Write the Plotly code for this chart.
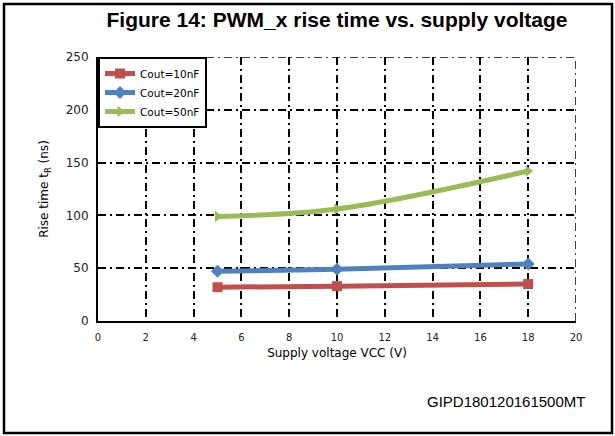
import plotly.graph_objects as go

# Data
vcc = [5, 10, 18]
rise_10nF = [32, 33, 35]
rise_20nF = [47, 49, 54]
rise_50nF = [99, 106, 142]
series_names = ["Cout=10nF", "Cout=20nF", "Cout=50nF"]
x_ticks = [0, 2, 4, 6, 8, 10, 12, 14, 16, 18, 20]
y_ticks = [0, 50, 100, 150, 200, 250]

colors = ["#C0504D", "#4F81BD", "#9BBB59"]
symbols = ["square", "diamond", "triangle-right"]

W, H = 615, 436
L, R, T, B = 98, 39, 57, 115
pw, ph = W - L - R, H - T - B


def px(xp):
    return (xp - L) / pw


def py(yp):
    return (H - B - yp) / ph


fig = go.Figure()
for name, ys, c, s in zip(series_names, [rise_10nF, rise_20nF, rise_50nF], colors, symbols):
    fig.add_trace(go.Scatter(
        x=vcc, y=ys, name=name, mode="lines+markers",
        line=dict(color=c, width=5, shape="spline"),
        marker=dict(color=c, symbol=s, size=10),
    ))

grid_dash = "8px,4px,2px,4px"
font_axis = "DejaVu Sans, Verdana, sans-serif"

fig.update_layout(
    width=W, height=H,
    margin=dict(l=L, r=R, t=T, b=B),
    paper_bgcolor="white", plot_bgcolor="white",
    showlegend=True,
    legend=dict(x=0, y=1, xanchor="left", yanchor="top",
                bgcolor="white", bordercolor="black", borderwidth=2,
                font=dict(family=font_axis, size=10.5, color="black"),
                itemwidth=30, tracegroupgap=0),
    title=dict(text="<b>Figure 14: PWM_x rise time vs. supply voltage</b>",
               x=0.5, xref="paper", xanchor="center",
               y=1 - 20 / H, yanchor="middle",
               font=dict(family="Liberation Sans, Arial, sans-serif", size=21, color="black")),
    xaxis=dict(range=[0, 20], tickvals=x_ticks, showgrid=True, gridcolor="black",
               griddash=grid_dash, gridwidth=1.5, showline=True, linecolor="black",
               linewidth=2, zeroline=False, ticks="outside", ticklen=6,
               tickcolor="rgba(0,0,0,0)",
               tickfont=dict(family=font_axis, size=10, color="#222"),
               title=dict(text="Supply voltage VCC (V)", standoff=7,
                          font=dict(family=font_axis, size=12, color="black"))),
    yaxis=dict(range=[0, 250], tickvals=y_ticks, showgrid=True, gridcolor="black",
               griddash=grid_dash, gridwidth=1.5, showline=True, linecolor="black",
               linewidth=2, zeroline=False, ticks="outside", ticklen=5,
               tickcolor="rgba(0,0,0,0)",
               tickfont=dict(family=font_axis, size=12, color="#222"),
               title=dict(text="Rise time t<sub>R</sub> (ns)", standoff=14,
                          font=dict(family=font_axis, size=12, color="black"))),
)

# Right and top dash-dot border lines of the grid
fig.add_shape(type="line", xref="x", yref="y", x0=0, x1=20, y0=250, y1=250,
              line=dict(color="black", width=1.5, dash=grid_dash), layer="below")
fig.add_shape(type="line", xref="x", yref="y", x0=20, x1=20, y0=0, y1=250,
              line=dict(color="black", width=1.5, dash=grid_dash), layer="below")

# Outer frame
fig.add_shape(type="rect", xref="paper", yref="paper",
              x0=px(4), x1=px(612), y0=py(433), y1=py(4),
              line=dict(color="black", width=2.5), fillcolor="rgba(0,0,0,0)")

fig.add_annotation(text="GIPD180120161500MT", xref="paper", yref="paper",
                   x=px(587), y=py(401), xanchor="right", yanchor="middle",
                   showarrow=False,
                   font=dict(family="Liberation Sans, Arial, sans-serif", size=15, color="black"))

fig.write_html("out.html", config={"displayModeBar": False},
               post_script="document.body.style.margin='0px';document.body.style.overflow='hidden';")
